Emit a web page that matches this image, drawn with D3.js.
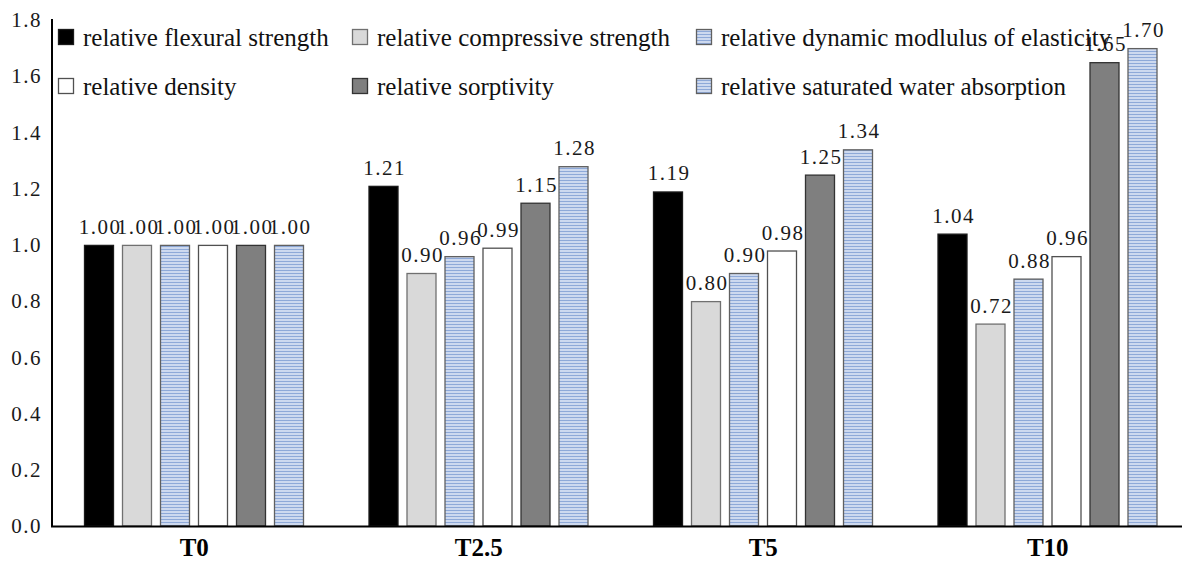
<!DOCTYPE html>
<html><head><meta charset="utf-8">
<script src="https://cdn.jsdelivr.net/npm/d3@7"></script>
<style>body{margin:0;background:#fff}svg{display:block}
svg text{font-family:"Liberation Serif","Times New Roman",Times,serif;}
</style>
</head><body><svg id="c" width="1182" height="561"></svg>
<script>
const categories = ["T0","T2.5","T5","T10"];
const series = ["relative flexural strength","relative compressive strength","relative dynamic modlulus of elasticity","relative density","relative sorptivity","relative saturated water absorption"];
const flexural = [1.00,1.21,1.19,1.04];
const compressive = [1.00,0.90,0.80,0.72];
const dynamicModulus = [1.00,0.96,0.90,0.88];
const density = [1.00,0.99,0.98,0.96];
const sorptivity = [1.00,1.15,1.25,1.65];
const waterAbsorption = [1.00,1.28,1.34,1.70];
const yTicks = [0,0.2,0.4,0.6,0.8,1.0,1.2,1.4,1.6,1.8];

const values = [flexural, compressive, dynamicModulus, density, sorptivity, waterAbsorption];
const fills = ["#000000","#d9d9d9","url(#stripe)","#ffffff","#7f7f7f","url(#stripe)"];
const strokes = ["#1a1a1a","#707070","#606060","#505050","#333333","#606060"];

const svg = d3.select("#c");
const defs = svg.append("defs");
const pat = defs.append("pattern").attr("id","stripe").attr("patternUnits","userSpaceOnUse").attr("width",6).attr("height",3);
pat.append("rect").attr("width",6).attr("height",3).attr("fill","#cdd9ef");
pat.append("rect").attr("y",0).attr("width",6).attr("height",1).attr("fill","#8ea9d8");

const y = d3.scaleLinear().domain([0,1.8]).range([526,20]);
const x0 = d3.scaleBand().domain(categories).range([52,1190]);
const x1 = d3.scaleBand().domain(series).range([32,252]).paddingInner(8/38).paddingOuter(0);

// bars
categories.forEach((cat,ci)=>{
  const g = svg.append("g").attr("transform",`translate(${x0(cat)},0)`);
  series.forEach((s,si)=>{
    const v = values[si][ci];
    g.append("rect").attr("x",x1(s)+0.5).attr("y",y(v)+0.5)
      .attr("width",x1.bandwidth()-1).attr("height",y(0)-y(v)-0.5)
      .attr("fill",fills[si]).attr("stroke",strokes[si]).attr("stroke-width",1.3);
  });
});
// labels
categories.forEach((cat,ci)=>{
  series.forEach((s,si)=>{
    const v = values[si][ci];
    svg.append("text").attr("x",x0(cat)+x1(s)+x1.bandwidth()/2+1).attr("y",y(v)-11)
      .attr("text-anchor","middle").style("font-size","21px")
      .attr("letter-spacing","1.5px").attr("fill","#1a1a1a").text(d3.format(".2f")(v));
  });
});

// axes
const yAxis = d3.axisLeft(y).tickValues(yTicks).tickSize(0).tickFormat(d3.format(".1f"));
const ya = svg.append("g").attr("transform","translate(52,0)").call(yAxis);
ya.select(".domain").remove();
ya.selectAll("text").attr("x",-10).style("font-size","21px").attr("letter-spacing","1.5px").attr("fill","#1a1a1a");
svg.append("line").attr("x1",52).attr("x2",52).attr("y1",19).attr("y2",527).attr("stroke","#000").attr("stroke-width",2);

const xAxis = d3.axisBottom(x0).tickSize(0);
const xa = svg.append("g").attr("transform","translate(0,526)").call(xAxis);
xa.select(".domain").remove();
xa.selectAll("text").attr("y",12).style("font-size","25px").attr("font-weight","bold").attr("fill","#000");
svg.append("line").attr("x1",51).attr("x2",1182).attr("y1",526.5).attr("y2",526.5).attr("stroke","#000").attr("stroke-width",2);

// legend
const legX = [58,352,696];
const legY = [46,95];
series.forEach((s,i)=>{
  const col = i%3, row = Math.floor(i/3);
  const g = svg.append("g").attr("transform",`translate(${legX[col]},${legY[row]})`);
  g.append("rect").attr("x",0.5).attr("y",-16.5).attr("width",15).attr("height",15)
    .attr("fill",fills[i]).attr("stroke",strokes[i]).attr("stroke-width",1.3);
  g.append("text").attr("x",25).attr("y",0).style("font-size","25px")
    .attr("fill","#111").text(s);
});
</script></body></html>
